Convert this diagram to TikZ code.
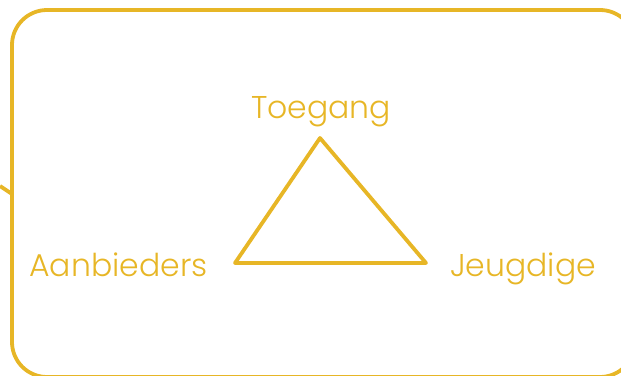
\documentclass[tikz,border=0pt]{standalone}
\usepackage{fontspec}
\setmainfont{Poppins}[UprightFont=* Light]
\usepackage{tikz}
\usetikzlibrary{positioning}
\definecolor{gold}{RGB}{231,182,38}

\begin{document}
\begin{tikzpicture}[x=1pt,y=-1pt,
  frame/.style={draw=gold, line width=3.8pt, rounded corners=35pt},
  edge/.style={draw=gold, line width=3.8pt, line join=round},
  label/.style={text=gold, inner sep=0pt, anchor=base, font=\fontsize{31.5}{31.5}\selectfont}]
\useasboundingbox (0,0) rectangle (621,375);
% outer frame, cut off at right and bottom
\draw[frame] (12,10) rectangle (635,377);
\coordinate (stubA) at (0,186);
\coordinate (stubB) at (12,194);
\draw[edge] (stubA) -- (stubB);
% triangle
\coordinate (top) at (320,138);
\coordinate (left) at (235,263);
\coordinate (right) at (426,263);
\draw[edge] (top) -- (right) -- (left) -- cycle;
\node[label] (toegang) at (321,118) {Toegang};
\node[label] (aanbieders) at (118.5,276) {Aanbieders};
\node[label] (jeugdige) at (523,276) {Jeugdige};
\end{tikzpicture}
\end{document}
